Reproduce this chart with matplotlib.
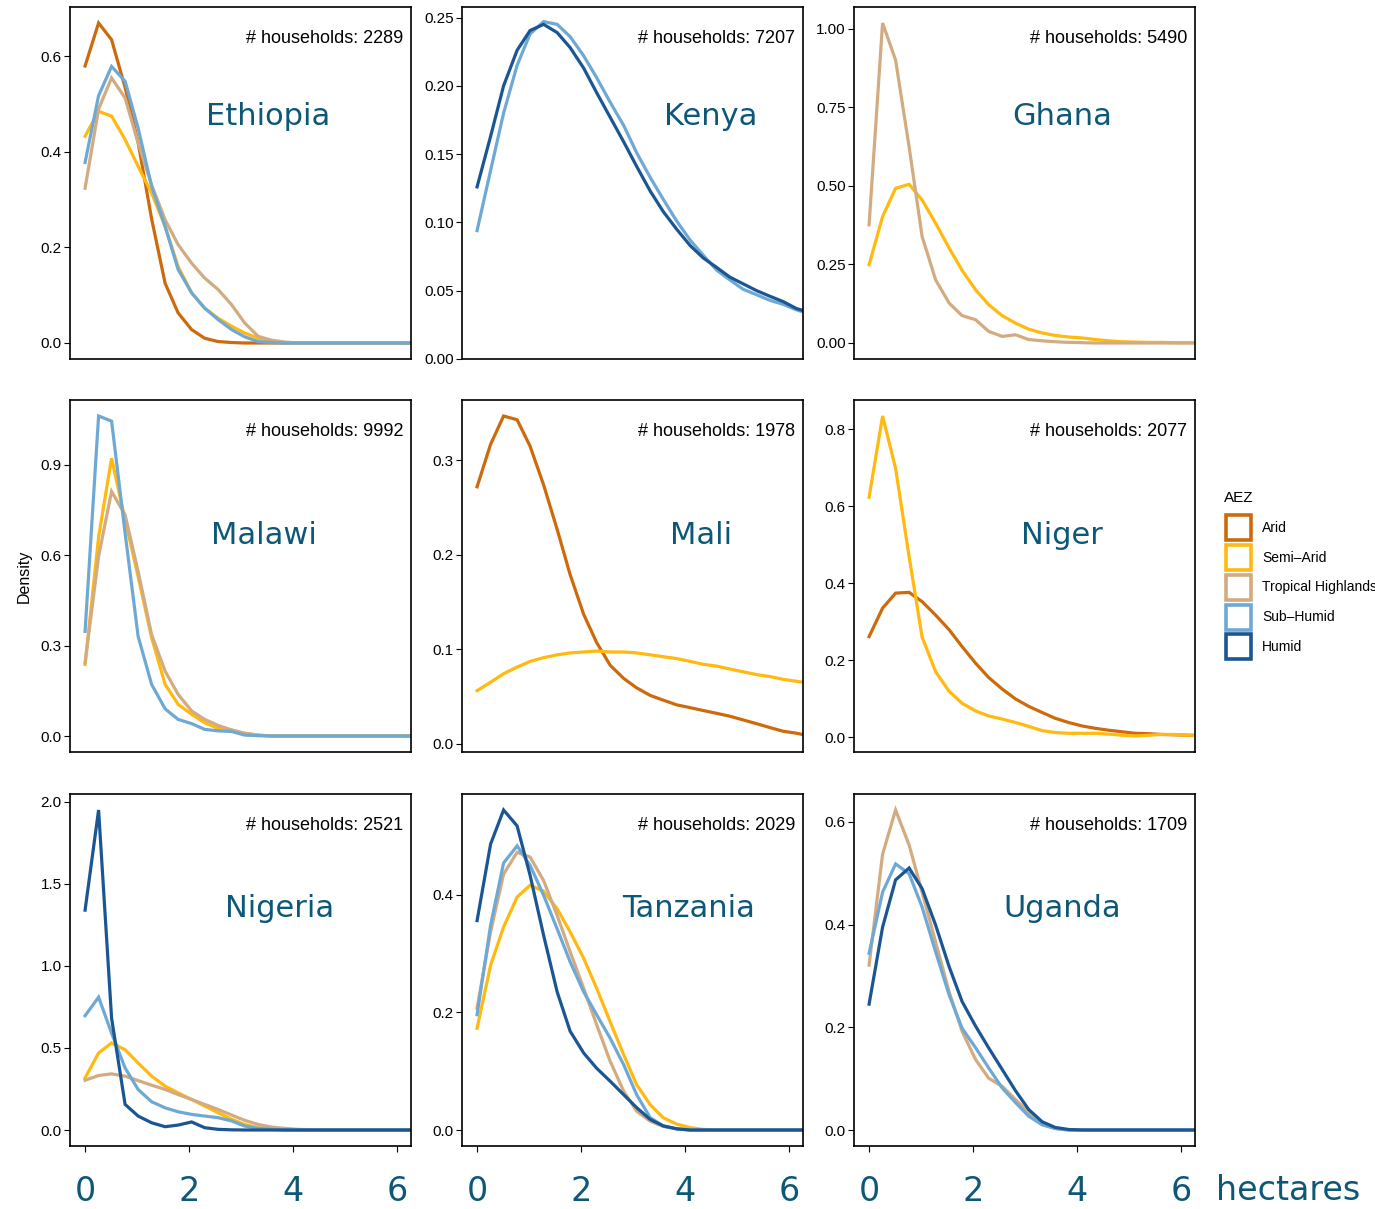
import numpy as np
import matplotlib
matplotlib.use("Agg")
import matplotlib.pyplot as plt
from matplotlib.patches import Rectangle

# farm size grid (hectares)
x_ha = [0, 0.26, 0.51, 0.77, 1.02, 1.28, 1.54, 1.79, 2.05, 2.30, 2.56, 2.82, 3.07,
        3.33, 3.58, 3.84, 4.10, 4.35, 4.61, 4.86, 5.12, 5.38, 5.63, 5.89, 6.14, 6.40]

aez_names = ["Arid", "Semi\u2013Arid", "Tropical Highlands", "Sub\u2013Humid", "Humid"]
aez_colors = ["#CD6A0C", "#FFB90F", "#D2AB80", "#6EA9D5", "#1B5694"]

countries = ["Ethiopia", "Kenya", "Ghana", "Malawi", "Mali", "Niger", "Nigeria", "Tanzania", "Uganda"]
households = [2289, 7207, 5490, 9992, 1978, 2077, 2521, 2029, 1709]

ethiopia = {
    "Arid": [0.58, 0.67, 0.635, 0.535, 0.42, 0.26, 0.125, 0.063, 0.028, 0.01, 0.003, 0.001, 0,
             0, 0, 0, 0, 0, 0, 0, 0, 0, 0, 0, 0, 0],
    "Semi\u2013Arid": [0.433, 0.485, 0.475, 0.426, 0.37, 0.314, 0.244, 0.16, 0.105, 0.073, 0.052, 0.035, 0.021,
                  0.01, 0.003, 0.001, 0, 0, 0, 0, 0, 0, 0, 0, 0, 0],
    "Tropical Highlands": [0.324, 0.49, 0.555, 0.513, 0.419, 0.331, 0.258, 0.206, 0.167, 0.136, 0.112, 0.08, 0.042,
                           0.014, 0.006, 0.002, 0, 0, 0, 0, 0, 0, 0, 0, 0, 0],
    "Sub\u2013Humid": [0.378, 0.518, 0.579, 0.548, 0.45, 0.328, 0.244, 0.154, 0.105, 0.073, 0.049, 0.028, 0.013,
                  0.003, 0.001, 0, 0, 0, 0, 0, 0, 0, 0, 0, 0, 0],
}
kenya = {
    "Sub\u2013Humid": [0.094, 0.138, 0.18, 0.215, 0.238, 0.247, 0.245, 0.236, 0.222, 0.206, 0.188, 0.171, 0.151,
                  0.133, 0.117, 0.101, 0.087, 0.076, 0.065, 0.058, 0.051, 0.047, 0.043, 0.04, 0.036, 0.033],
    "Humid": [0.126, 0.163, 0.2, 0.226, 0.2405, 0.245, 0.239, 0.228, 0.213, 0.195, 0.177, 0.159, 0.141,
              0.123, 0.108, 0.095, 0.083, 0.074, 0.067, 0.06, 0.055, 0.05, 0.046, 0.042, 0.037, 0.034],
}
ghana = {
    "Semi\u2013Arid": [0.249, 0.402, 0.492, 0.505, 0.455, 0.381, 0.302, 0.231, 0.169, 0.122, 0.087, 0.063, 0.044,
                  0.032, 0.024, 0.019, 0.016, 0.011, 0.007, 0.004, 0.003, 0.002, 0.002, 0.001, 0.001, 0.001],
    "Tropical Highlands": [0.376, 1.018, 0.9, 0.624, 0.339, 0.201, 0.127, 0.087, 0.074, 0.037, 0.021, 0.026, 0.011,
                           0.007, 0.004, 0.002, 0.001, 0, 0, 0, 0, 0, 0, 0, 0, 0],
}
malawi = {
    "Semi\u2013Arid": [0.237, 0.66, 0.921, 0.717, 0.529, 0.326, 0.171, 0.105, 0.072, 0.044, 0.025, 0.02, 0.009,
                  0.003, 0, 0, 0, 0, 0, 0, 0, 0, 0, 0, 0, 0],
    "Tropical Highlands": [0.243, 0.596, 0.811, 0.733, 0.546, 0.336, 0.215, 0.138, 0.083, 0.055, 0.035, 0.02, 0.009,
                           0.003, 0, 0, 0, 0, 0, 0, 0, 0, 0, 0, 0, 0],
    "Sub\u2013Humid": [0.347, 1.061, 1.044, 0.673, 0.331, 0.171, 0.09, 0.055, 0.041, 0.022, 0.017, 0.015, 0.003,
                  0.001, 0, 0, 0, 0, 0, 0, 0, 0, 0, 0, 0, 0],
}
mali = {
    "Arid": [0.272, 0.317, 0.347, 0.343, 0.315, 0.274, 0.227, 0.179, 0.137, 0.107, 0.083, 0.069, 0.059,
             0.051, 0.046, 0.041, 0.038, 0.035, 0.032, 0.029, 0.025, 0.021, 0.017, 0.013, 0.011, 0.008],
    "Semi\u2013Arid": [0.056, 0.065, 0.074, 0.081, 0.087, 0.091, 0.094, 0.096, 0.097, 0.098, 0.097, 0.097, 0.096,
                  0.094, 0.092, 0.09, 0.087, 0.084, 0.082, 0.079, 0.076, 0.073, 0.071, 0.068, 0.066, 0.064],
}
niger = {
    "Arid": [0.261, 0.335, 0.374, 0.376, 0.352, 0.317, 0.279, 0.235, 0.192, 0.155, 0.125, 0.099, 0.08,
             0.064, 0.049, 0.038, 0.029, 0.023, 0.018, 0.014, 0.01, 0.009, 0.007, 0.006, 0.005, 0.004],
    "Semi\u2013Arid": [0.623, 0.834, 0.698, 0.469, 0.26, 0.17, 0.119, 0.088, 0.068, 0.055, 0.047, 0.038, 0.028,
                  0.017, 0.012, 0.01, 0.01, 0.01, 0.008, 0.005, 0.003, 0.005, 0.007, 0.007, 0.005, 0.004],
}
nigeria = {
    "Semi\u2013Arid": [0.317, 0.469, 0.53, 0.489, 0.408, 0.328, 0.267, 0.226, 0.186, 0.146, 0.105, 0.065, 0.034,
                  0.014, 0.006, 0.002, 0, 0, 0, 0, 0, 0, 0, 0, 0, 0],
    "Tropical Highlands": [0.303, 0.332, 0.342, 0.328, 0.301, 0.273, 0.247, 0.216, 0.186, 0.156, 0.125, 0.091, 0.059,
                           0.034, 0.018, 0.01, 0.004, 0.002, 0, 0, 0, 0, 0, 0, 0, 0],
    "Sub\u2013Humid": [0.696, 0.809, 0.59, 0.378, 0.247, 0.172, 0.135, 0.111, 0.095, 0.085, 0.075, 0.055, 0.024,
                  0.01, 0.004, 0, 0, 0, 0, 0, 0, 0, 0, 0, 0, 0],
    "Humid": [1.339, 1.949, 0.681, 0.156, 0.085, 0.044, 0.02, 0.03, 0.049, 0.014, 0.004, 0.001, 0,
              0, 0, 0, 0, 0, 0, 0, 0, 0, 0, 0, 0, 0],
}
tanzania = {
    "Semi\u2013Arid": [0.173, 0.28, 0.345, 0.396, 0.416, 0.406, 0.376, 0.337, 0.292, 0.241, 0.184, 0.128, 0.077,
                  0.043, 0.021, 0.01, 0.004, 0.001, 0, 0, 0, 0, 0, 0, 0, 0],
    "Tropical Highlands": [0.207, 0.337, 0.435, 0.472, 0.464, 0.424, 0.365, 0.303, 0.241, 0.179, 0.117, 0.066, 0.032,
                           0.015, 0.006, 0.002, 0, 0, 0, 0, 0, 0, 0, 0, 0, 0],
    "Sub\u2013Humid": [0.196, 0.348, 0.454, 0.483, 0.45, 0.399, 0.342, 0.286, 0.235, 0.196, 0.156, 0.111, 0.06,
                  0.021, 0.007, 0.002, 0, 0, 0, 0, 0, 0, 0, 0, 0, 0],
    "Humid": [0.356, 0.486, 0.544, 0.517, 0.433, 0.331, 0.235, 0.168, 0.131, 0.105, 0.083, 0.06, 0.038,
              0.018, 0.007, 0.002, 0, 0, 0, 0, 0, 0, 0, 0, 0, 0],
}
uganda = {
    "Tropical Highlands": [0.321, 0.537, 0.623, 0.555, 0.463, 0.366, 0.269, 0.192, 0.137, 0.101, 0.085, 0.059, 0.034,
                           0.011, 0.003, 0, 0, 0, 0, 0, 0, 0, 0, 0, 0, 0],
    "Sub\u2013Humid": [0.344, 0.463, 0.518, 0.499, 0.434, 0.347, 0.263, 0.198, 0.16, 0.121, 0.082, 0.053, 0.027,
                  0.01, 0.003, 0, 0, 0, 0, 0, 0, 0, 0, 0, 0, 0],
    "Humid": [0.245, 0.395, 0.487, 0.51, 0.47, 0.399, 0.318, 0.25, 0.202, 0.16, 0.118, 0.076, 0.04,
              0.016, 0.005, 0.001, 0, 0, 0, 0, 0, 0, 0, 0, 0, 0],
}
densities = [ethiopia, kenya, ghana, malawi, mali, niger, nigeria, tanzania, uganda]

y_ticks = [[0.0, 0.2, 0.4, 0.6], [0.0, 0.05, 0.10, 0.15, 0.20, 0.25], [0.0, 0.25, 0.5, 0.75, 1.0],
           [0.0, 0.3, 0.6, 0.9], [0.0, 0.1, 0.2, 0.3], [0.0, 0.2, 0.4, 0.6, 0.8],
           [0.0, 0.5, 1.0, 1.5, 2.0], [0.0, 0.2, 0.4], [0.0, 0.2, 0.4, 0.6]]
y_fmt = ["%.1f", "%.2f", "%.2f", "%.1f", "%.1f", "%.1f", "%.1f", "%.1f", "%.1f"]
x_ticks = [0, 2, 4, 6]

# label placement (axes fraction)
name_pos = [(0.58, 0.69), (0.73, 0.69), (0.61, 0.69), (0.57, 0.615), (0.70, 0.615), (0.61, 0.615),
            (0.615, 0.675), (0.665, 0.675), (0.61, 0.675)]

TEAL = "#0E5877"
W, H = 1375, 1209
fig = plt.figure(figsize=(W / 100, H / 100), dpi=100)
col_left = [70, 462, 854]
row_top = [7, 400, 794]
aw, ah = 341, 352

for i, c in enumerate(countries):
    r, k = divmod(i, 3)
    ax = fig.add_axes([col_left[k] / W, 1 - (row_top[r] + ah) / H, aw / W, ah / H])
    for name, color in zip(aez_names, aez_colors):
        if name in densities[i]:
            ax.plot(x_ha, densities[i][name], color=color, lw=2.3, solid_joinstyle="miter")
    ax.set_xlim(-0.29, 6.27)
    ax.margins(y=0.05)
    ax.set_yticks(y_ticks[i])
    ax.set_yticklabels([y_fmt[i] % v for v in y_ticks[i]], fontsize=11, family="Liberation Sans")
    ax.tick_params(axis="y", length=4, width=0.8, pad=2)
    for s in ax.spines.values():
        s.set_linewidth(1.2)
    if r == 2:
        ax.set_xticks(x_ticks)
        ax.set_xticklabels(["0", "2", "4", "6"], fontsize=24, color=TEAL, family="DejaVu Sans")
        ax.tick_params(axis="x", length=4, width=0.8, pad=17)
    else:
        ax.set_xticks([])
    ax.text(0.977, 0.91, "# households: %d" % households[i], transform=ax.transAxes,
            ha="right", va="center", fontsize=13, family="Liberation Sans")
    ax.text(name_pos[i][0], name_pos[i][1], c, transform=ax.transAxes, ha="center", va="center",
            fontsize=22, color=TEAL, family="DejaVu Sans")
    if i == 3:
        ax.set_ylabel("Density", fontsize=11.5, family="Liberation Sans", labelpad=6)

fig.text(1216 / W, 1 - 1191 / H, "hectares", fontsize=24, color=TEAL, family="DejaVu Sans",
         ha="left", va="center")

# legend, drawn by hand so key size and spacing follow the original
fig.text(1224 / W, 1 - 498 / H, "AEZ", fontsize=11, family="Liberation Sans", ha="left", va="center")
key = 25
for j, (name, color) in enumerate(zip(aez_names, aez_colors)):
    cy = 528 + j * 29.7
    fig.add_artist(Rectangle(((1226) / W, 1 - (cy + key / 2) / H), key / W, key / H,
                             transform=fig.transFigure, facecolor="white", edgecolor=color, lw=2.6))
    fig.text(1262 / W, 1 - cy / H, name, fontsize=10, family="Liberation Sans", ha="left", va="center")

fig.savefig("out.png", dpi=100)
